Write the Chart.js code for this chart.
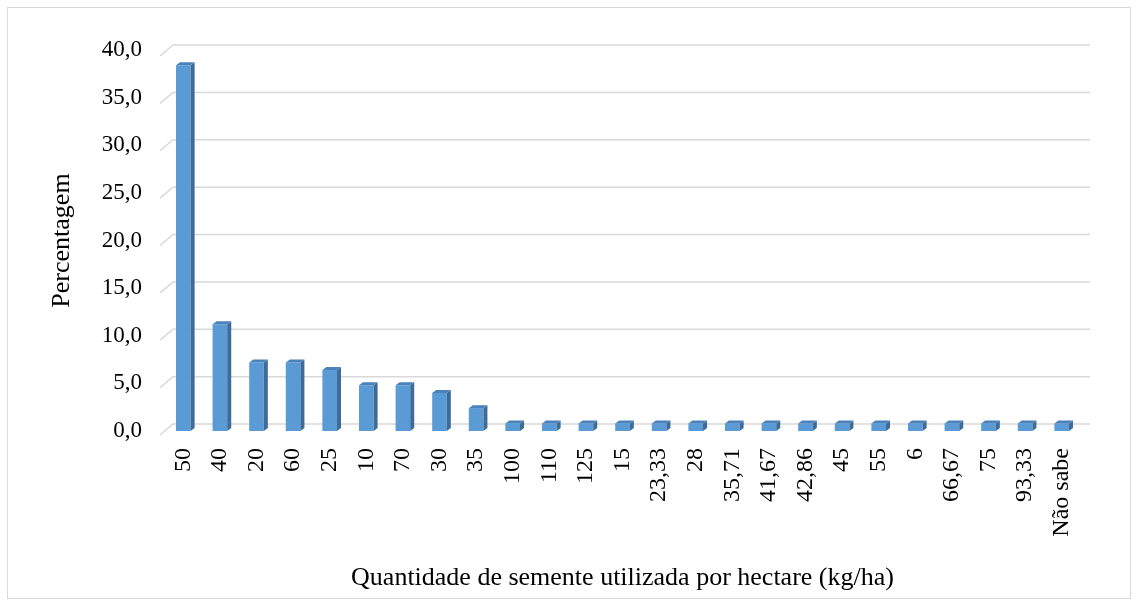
<!DOCTYPE html>
<html>
<head>
<meta charset="utf-8">
<script src="https://cdn.jsdelivr.net/npm/chart.js@4.4.1/dist/chart.umd.min.js"></script>
<style>
  html, body { margin: 0; padding: 0; background: #fff; }
  #wrap { width: 1138px; height: 606px; position: relative; }
</style>
</head>
<body>
<div id="wrap"><canvas id="seedChart" width="1138" height="606"></canvas></div>
<script>
// categorias (kg/ha) e percentagens
const categorias = ['50', '40', '20', '60', '25', '10', '70', '30', '35', '100', '110', '125', '15',
  '23,33', '28', '35,71', '41,67', '42,86', '45', '55', '6', '66,67', '75', '93,33', 'Não sabe'];
const percentagens = [38.4, 11.2, 7.2, 7.2, 6.4, 4.8, 4.8, 4.0, 2.4, 0.8, 0.8, 0.8, 0.8,
  0.8, 0.8, 0.8, 0.8, 0.8, 0.8, 0.8, 0.8, 0.8, 0.8, 0.8, 0.8];
const yMin = 0, yMax = 40, yStep = 5;

const serif = '"Liberation Serif", "DejaVu Serif", serif';

// moldura exterior
const frame = {
  id: 'frame',
  beforeDraw(chart) {
    const c = chart.ctx;
    c.save();
    c.fillStyle = '#fff';
    c.fillRect(0, 0, chart.width, chart.height);
    c.strokeStyle = '#d9d9d9';
    c.lineWidth = 1;
    c.strokeRect(7.5, 7.5, 1123, 591);
    c.restore();
  }
};

// parede de fundo com linhas de grelha em perspetiva
const backWall = {
  id: 'backWall',
  beforeDatasetsDraw(chart) {
    const c = chart.ctx, y = chart.scales.y, area = chart.chartArea;
    c.save();
    c.strokeStyle = '#d9d9d9';
    c.lineWidth = 1.5;
    for (let v = yMin; v <= yMax; v += yStep) {
      const py = y.getPixelForValue(v) - 7 + v * 0.05;
      c.beginPath();
      c.moveTo(area.left - 5, py + 11);
      c.lineTo(area.left + 8, py);
      c.lineTo(area.right + 10, py);
      c.stroke();
    }
    c.restore();
  }
};

// faces laterais e superiores das barras (efeito 3D)
const bars3d = {
  id: 'bars3d',
  afterDatasetsDraw(chart) {
    const c = chart.ctx;
    const dx = 4, dy = 3;
    chart.getDatasetMeta(0).data.forEach(bar => {
      const l = bar.x - bar.width / 2, r = bar.x + bar.width / 2;
      const top = bar.y, base = bar.base;
      c.save();
      c.fillStyle = '#3f6b98';
      c.beginPath();
      c.moveTo(r, top); c.lineTo(r + dx, top - dy);
      c.lineTo(r + dx, base - dy); c.lineTo(r, base);
      c.closePath(); c.fill();
      c.fillStyle = '#4a82bb';
      c.beginPath();
      c.moveTo(l, top); c.lineTo(l + dx, top - dy);
      c.lineTo(r + dx, top - dy); c.lineTo(r, top);
      c.closePath(); c.fill();
      c.restore();
    });
  }
};

new Chart(document.getElementById('seedChart'), {
  type: 'bar',
  data: {
    labels: categorias,
    datasets: [{
      data: percentagens,
      backgroundColor: '#5b9bd5',
      borderWidth: 0,
      barPercentage: 0.4,
      categoryPercentage: 1.0
    }]
  },
  options: {
    responsive: false,
    animation: false,
    layout: { padding: { left: 0, top: 50, right: 58, bottom: 0 } },
    plugins: { legend: { display: false }, tooltip: { enabled: false } },
    scales: {
      x: {
        grid: { display: false, drawTicks: false },
        border: { display: false },
        ticks: {
          color: '#000', font: { family: serif, size: 24 },
          minRotation: 90, maxRotation: 90, autoSkip: false, padding: 17
        },
        title: {
          display: true, text: 'Quantidade de semente utilizada por hectare (kg/ha)',
          color: '#000', font: { family: serif, size: 26 }, padding: { top: 0, bottom: 12 }
        },
        afterFit(scale) { scale.height = 175; }
      },
      y: {
        min: yMin, max: yMax,
        grid: { display: false, drawTicks: false },
        border: { display: false },
        ticks: {
          stepSize: yStep, color: '#000', font: { family: serif, size: 23 }, padding: 23,
          callback: v => v.toFixed(1).replace('.', ',')
        },
        title: {
          display: true, text: 'Percentagem',
          color: '#000', font: { family: serif, size: 26 }, padding: { top: 47, bottom: 0 }
        },
        afterFit(scale) { scale.width = 165; }
      }
    }
  },
  plugins: [frame, backWall, bars3d]
});
</script>
</body>
</html>
